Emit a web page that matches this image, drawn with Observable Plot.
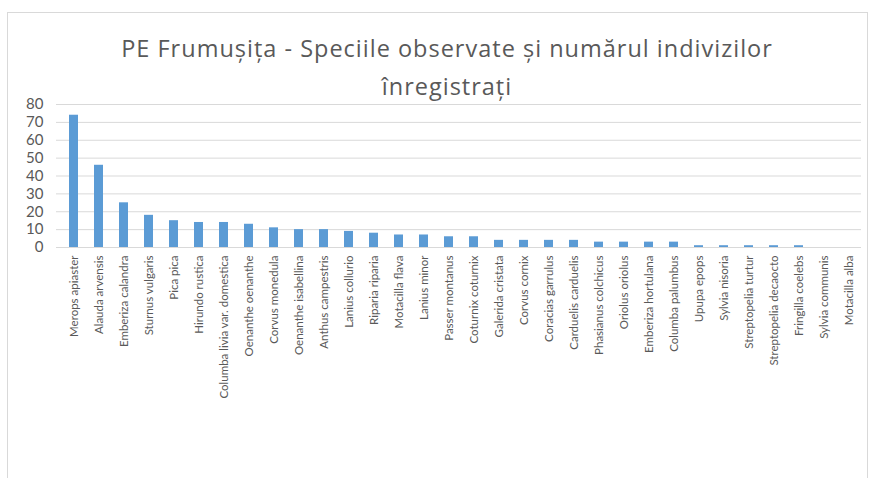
<!DOCTYPE html>
<html>
<head>
<meta charset="utf-8">
<script src="https://cdn.jsdelivr.net/npm/d3@7"></script>
<script src="https://cdn.jsdelivr.net/npm/@observablehq/plot@0.6"></script>
<style>
  html, body { margin: 0; padding: 0; background: #fff; overflow: hidden; }
  #frame { position: absolute; left: 7px; top: 12px; width: 861px; height: 480px; border: 1px solid #d9d9d9; box-sizing: border-box; }
  #title { position: absolute; left: 10px; top: 29px; width: 874px; text-align: center; font-family: "Open Sans", Lato, sans-serif; font-size: 23.5px; letter-spacing: 1px; line-height: 38px; color: #595959; }
  #chart { position: absolute; left: 0; top: 90px; }
</style>
</head>
<body>
<div id="frame"></div>
<div id="title">PE Frumușița - Speciile observate și numărul indivizilor<br>înregistrați</div>
<div id="chart"></div>
<script>
const species = [
  "Merops apiaster", "Alauda arvensis", "Emberiza calandra", "Sturnus vulgaris", "Pica pica",
  "Hirundo rustica", "Columba livia var. domestica", "Oenanthe oenanthe", "Corvus monedula",
  "Oenanthe isabellina", "Anthus campestris", "Lanius collurio", "Riparia riparia", "Motacilla flava",
  "Lanius minor", "Passer montanus", "Coturnix coturnix", "Galerida cristata", "Corvus cornix",
  "Coracias garrulus", "Carduelis carduelis", "Phasianus colchicus", "Oriolus oriolus",
  "Emberiza hortulana", "Columba palumbus", "Upupa epops", "Sylvia nisoria", "Streptopelia turtur",
  "Streptopelia decaocto", "Fringilla coelebs", "Sylvia communis", "Motacilla alba"
];
const counts = [74, 46, 25, 18, 15, 14, 14, 13, 11, 10, 10, 9, 8, 7, 7, 6, 6, 4, 4, 4, 4, 3, 3, 3, 3, 1, 1, 1, 1, 1, 0, 0];
const yTicks = [0, 10, 20, 30, 40, 50, 60, 70, 80];

const data = species.map((s, i) => ({species: s, count: counts[i]}));

const chart = Plot.plot({
  width: 870,
  height: 388,
  marginTop: 14,
  marginBottom: 231,
  marginLeft: 60,
  marginRight: 9,
  style: {fontFamily: "Lato, 'Open Sans', sans-serif", color: "#595959", background: "transparent"},
  x: {domain: species, paddingInner: 0.64, paddingOuter: 0.32, label: null},
  y: {domain: [0, 80], label: null},
  marks: [
    Plot.ruleY(yTicks, {stroke: "#d9d9d9", strokeWidth: 1, insetLeft: -4, insetRight: 0}),
    Plot.barY(data, {x: "species", y: "count", fill: "#5b9bd5"}),
    Plot.axisY({ticks: yTicks, tickSize: 0, tickPadding: 17, fontSize: 15, label: null, fill: "#595959"}),
    Plot.axisX({tickSize: 0, tickPadding: 8, tickRotate: -90, fontSize: 11.5, label: null, fill: "#595959"})
  ]
});
document.getElementById("chart").appendChild(chart);
</script>
</body>
</html>
